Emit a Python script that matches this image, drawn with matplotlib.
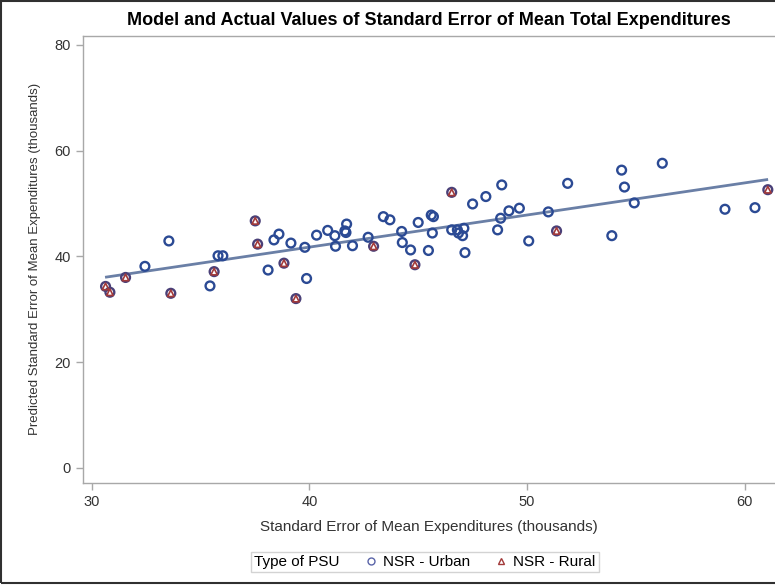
import matplotlib
matplotlib.use("Agg")
import matplotlib.pyplot as plt
from matplotlib.lines import Line2D
from matplotlib.patches import Rectangle

plt.rcParams['font.family'] = ['Liberation Sans', 'DejaVu Sans']

# NSR - Urban PSUs: (actual SE, predicted SE), thousands
urban_x = [32.44, 33.54, 35.43, 35.80, 36.02, 38.10, 38.37, 38.60, 39.15, 39.79,
           39.87, 40.33, 40.84, 41.17, 41.20, 41.63, 41.68, 41.71, 41.98, 42.70,
           43.40, 43.70, 44.24, 44.27, 44.65, 45.00, 45.47, 45.60, 45.70, 45.65,
           46.54, 46.80, 46.85, 47.04, 47.10, 47.15, 47.50, 48.11, 48.65, 48.79,
           48.84, 49.17, 49.65, 50.08, 50.98, 51.87, 53.90, 54.35, 54.48, 54.93,
           56.22, 59.10, 60.48]
urban_y = [38.1, 42.9, 34.4, 40.1, 40.1, 37.4, 43.1, 44.2, 42.5, 41.7,
           35.8, 44.0, 44.9, 43.9, 41.9, 44.8, 44.5, 46.1, 42.0, 43.6,
           47.5, 46.9, 44.7, 42.6, 41.2, 46.4, 41.1, 47.8, 47.5, 44.4,
           45.0, 45.0, 44.4, 43.9, 45.3, 40.7, 49.9, 51.3, 45.0, 47.2,
           53.5, 48.6, 49.1, 42.9, 48.4, 53.8, 43.9, 56.3, 53.1, 50.1,
           57.6, 48.9, 49.2]

# NSR - Rural PSUs
rural_x = [30.63, 30.83, 31.55, 33.63, 35.62, 37.51, 37.62, 38.83, 39.38, 42.95,
           44.85, 46.54, 51.36, 61.07]
rural_y = [34.3, 33.2, 36.0, 33.0, 37.1, 46.7, 42.3, 38.7, 32.0, 41.9,
           38.4, 52.1, 44.8, 52.6]

# Fitted model line (endpoints)
fit_x = [30.67, 61.02]
fit_y = [36.07, 54.50]

x_ticks = [30, 40, 50, 60]
y_ticks = [0, 20, 40, 60, 80]

title = "Model and Actual Values of Standard Error of Mean Total Expenditures"
xlabel = "Standard Error of Mean Expenditures (thousands)"
ylabel = "Predicted Standard Error of Mean Expenditures (thousands)"
legend_title = "Type of PSU"
urban_label = "NSR - Urban"
rural_label = "NSR - Rural"

urban_color = "#2b4a94"
rural_color = "#a23a3a"
fit_color = "#6a7fa6"
spine_color = "#a8a8a8"
text_color = "#333333"

fig = plt.figure(figsize=(7.75, 5.88), dpi=100)
ax = fig.add_axes([0.107, 0.179, 0.893, 0.760])

ax.plot(fit_x, fit_y, color=fit_color, lw=2.0, zorder=2)
ax.scatter(urban_x, urban_y, s=40, facecolors='none', edgecolors=urban_color,
           linewidths=1.7, zorder=3)
ax.scatter(rural_x, rural_y, s=40, facecolors='none', edgecolors="#4a4078",
           linewidths=1.7, zorder=3)
ax.scatter(rural_x, rural_y, s=22, marker='^', facecolors='none',
           edgecolors=rural_color, linewidths=1.2, zorder=4)

ax.set_xlim(29.59, 61.4)
ax.set_ylim(-2.84, 81.7)
ax.set_xticks(x_ticks)
ax.set_yticks(y_ticks)
for s in ax.spines.values():
    s.set_color(spine_color)
    s.set_linewidth(1.0)
ax.spines['right'].set_visible(False)
ax.tick_params(axis='both', colors=spine_color, labelcolor=text_color,
               labelsize=10.5, length=5, width=1.0, direction='out')

ax.set_title(title, fontsize=13, fontweight='bold', color='black', pad=8)
ax.set_xlabel(xlabel, fontsize=11, color=text_color, labelpad=8)
ax.set_ylabel(ylabel, fontsize=9.5, color=text_color, labelpad=10)

handles = [
    Line2D([], [], linestyle='none', marker='o', markersize=5,
           markerfacecolor='none', markeredgecolor="#5a64a8", markeredgewidth=1.0),
    Line2D([], [], linestyle='none', marker='^', markersize=5,
           markerfacecolor='none', markeredgecolor=rural_color, markeredgewidth=1.0),
]
labels = [urban_label, rural_label]
leg = fig.legend(handles, labels, ncol=2, loc='center', bbox_to_anchor=(0.548, 0.044),
                 fontsize=11, frameon=True, fancybox=False, handlelength=0.8,
                 handletextpad=0.4, columnspacing=1.0, borderpad=0.2,
                 edgecolor='#c8c8c8', title=legend_title, title_fontsize=11)
leg.get_frame().set_linewidth(1.0)
for t in leg.get_texts():
    t.set_color('black')
# put legend title on the same row as the entries
try:
    vp = leg._legend_box
    tb = leg._legend_title_box
    hb = leg._legend_handle_box
    vp._children = [hb]
    hb._children.insert(0, tb)
    hb.sep = 18
except Exception:
    pass

fig.patches.append(Rectangle((0.0015, 0.008), 1.2, 0.99, transform=fig.transFigure,
                             fill=False, edgecolor='#303030', linewidth=1.5))

fig.savefig("out.png", dpi=100)
